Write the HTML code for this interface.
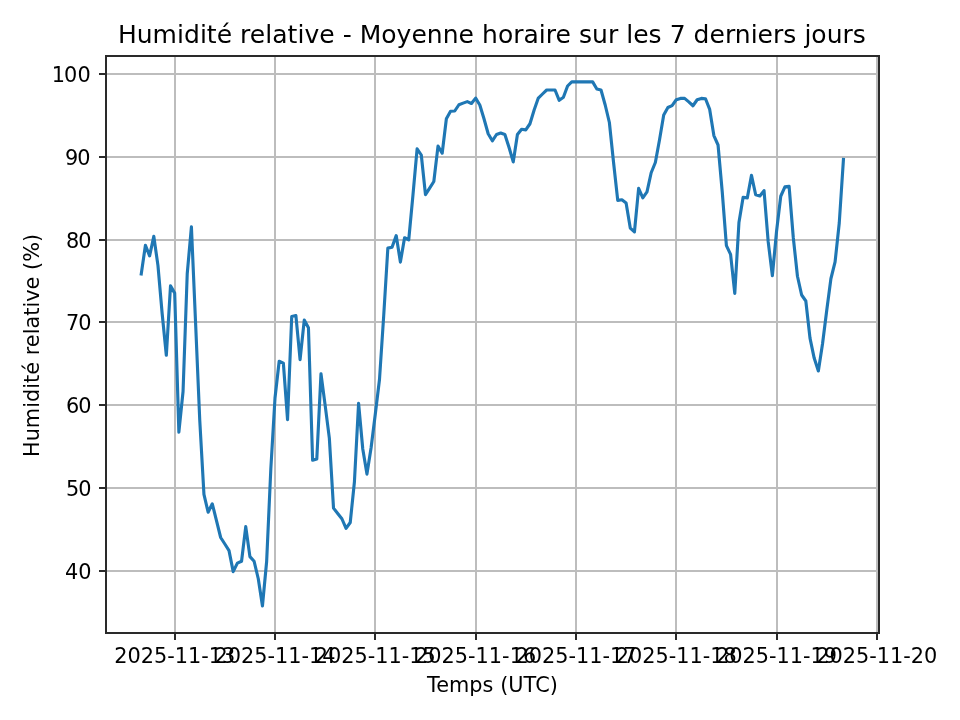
<!DOCTYPE html>
<html lang="fr"><head><meta charset="utf-8"><title>Humidité relative</title>
<style>
html,body{margin:0;padding:0;background:#fff;}
body{width:960px;height:720px;overflow:hidden;}
svg{display:block;will-change:transform;}
text{font-family:"DejaVu Sans","Liberation Sans",sans-serif;fill:#000;}
.t{font-size:25px;}
.l{font-size:20.8333px;}
</style></head><body>
<svg width="960" height="720" viewBox="0 0 960 720">
<rect x="0" y="0" width="960" height="720" fill="#fff"/>
<defs><clipPath id="ax"><rect x="106" y="56" width="773" height="577"/></clipPath></defs>
<g shape-rendering="crispEdges">
<g fill="#bdbdbd" clip-path="url(#ax)">
<rect x="174" y="56" width="2" height="577"/>
<rect x="274" y="56" width="2" height="577"/>
<rect x="374" y="56" width="2" height="577"/>
<rect x="475" y="56" width="2" height="577"/>
<rect x="575" y="56" width="2" height="577"/>
<rect x="675" y="56" width="2" height="577"/>
<rect x="776" y="56" width="2" height="577"/>
<rect x="876" y="56" width="2" height="577"/>
<rect x="106" y="73" width="773" height="2"/>
<rect x="106" y="156" width="773" height="2"/>
<rect x="106" y="239" width="773" height="2"/>
<rect x="106" y="321" width="773" height="2"/>
<rect x="106" y="404" width="773" height="2"/>
<rect x="106" y="487" width="773" height="2"/>
<rect x="106" y="570" width="773" height="2"/>
</g></g>
<polyline clip-path="url(#ax)" fill="none" stroke="#1f77b4" stroke-width="3.125" stroke-linejoin="round" stroke-linecap="square" points="141.25,274.00 145.43,245.25 149.61,255.90 153.79,236.30 157.97,265.60 162.15,313.50 166.33,355.30 170.51,285.90 174.69,293.10 178.87,432.20 183.05,391.50 187.23,273.75 191.41,226.80 195.59,323.10 199.77,420.50 203.95,494.40 208.13,512.20 212.30,503.80 216.48,520.60 220.66,537.50 224.84,544.00 229.02,550.60 233.20,571.60 237.38,563.10 241.56,561.25 245.74,526.60 249.92,556.60 254.10,561.25 258.28,578.75 262.46,605.90 266.64,561.50 270.82,469.00 275.00,398.00 279.18,361.25 283.36,363.10 287.54,419.60 291.72,316.60 295.90,315.60 300.08,359.70 304.26,320.10 308.44,327.75 312.62,460.30 316.80,459.00 320.98,373.80 325.16,405.40 329.34,438.10 333.52,508.10 337.70,513.50 341.88,518.75 346.06,528.40 350.24,522.50 354.41,482.00 358.59,403.40 362.77,449.00 366.95,474.10 371.13,447.50 375.31,414.00 379.49,379.50 383.67,316.25 387.85,248.10 392.03,247.25 396.21,235.60 400.39,262.10 404.57,237.75 408.75,239.75 412.93,195.40 417.11,148.80 421.29,155.00 425.47,194.70 429.65,188.10 433.83,181.50 438.01,146.10 442.19,153.20 446.37,118.75 450.55,111.25 454.73,111.00 458.91,104.75 463.09,103.10 467.27,101.60 471.45,103.50 475.63,98.10 479.81,105.00 483.99,118.75 488.17,133.75 492.34,140.80 496.52,134.50 500.70,133.00 504.88,134.50 509.06,147.50 513.24,161.90 517.42,134.50 521.60,129.20 525.78,129.90 529.96,123.75 534.14,110.00 538.32,98.10 542.50,94.00 546.68,90.00 550.86,90.00 555.04,90.00 559.22,100.30 563.40,97.25 567.58,86.00 571.76,81.90 575.94,81.90 580.12,81.90 584.30,81.90 588.48,81.90 592.66,81.90 596.84,89.00 601.02,90.00 605.20,105.00 609.38,122.50 613.56,162.50 617.74,200.40 621.92,199.80 626.10,202.90 630.27,228.10 634.45,231.90 638.63,188.40 642.81,197.80 646.99,191.90 651.17,172.75 655.35,162.50 659.53,139.80 663.71,115.00 667.89,107.50 672.07,105.60 676.25,99.75 680.43,98.40 684.61,98.40 688.79,101.90 692.97,105.75 697.15,99.75 701.33,98.40 705.51,98.75 709.69,109.40 713.87,135.60 718.05,145.00 722.23,191.75 726.41,245.60 730.59,254.40 734.77,293.40 738.95,222.50 743.13,197.25 747.31,197.90 751.49,175.30 755.67,194.75 759.85,196.00 764.03,190.60 768.21,241.90 772.38,275.70 776.56,231.25 780.74,196.25 784.92,186.90 789.10,186.25 793.28,237.50 797.46,276.25 801.64,295.00 805.82,301.00 810.00,338.10 814.18,358.10 818.36,370.90 822.54,343.75 826.72,310.50 830.90,278.75 835.08,261.90 839.26,223.00 843.44,159.40"/>
<g shape-rendering="crispEdges" fill="#2a2a2a">
<rect x="174" y="632" width="2" height="8"/>
<rect x="274" y="632" width="2" height="8"/>
<rect x="374" y="632" width="2" height="8"/>
<rect x="475" y="632" width="2" height="8"/>
<rect x="575" y="632" width="2" height="8"/>
<rect x="675" y="632" width="2" height="8"/>
<rect x="776" y="632" width="2" height="8"/>
<rect x="876" y="632" width="2" height="8"/>
<rect x="99" y="73" width="8" height="2"/>
<rect x="99" y="156" width="8" height="2"/>
<rect x="99" y="239" width="8" height="2"/>
<rect x="99" y="321" width="8" height="2"/>
<rect x="99" y="404" width="8" height="2"/>
<rect x="99" y="487" width="8" height="2"/>
<rect x="99" y="570" width="8" height="2"/>
<rect x="105" y="55" width="2" height="579"/>
<rect x="878" y="55" width="2" height="579"/>
<rect x="105" y="55" width="775" height="2"/>
<rect x="105" y="632" width="775" height="2"/>
</g>
<text class="t" x="117.9" y="43" textLength="748" lengthAdjust="spacing">Humidité relative - Moyenne horaire sur les 7 derniers jours</text>
<text class="l" x="51.65 64.0 77.5" y="82">100</text>
<text class="l" x="65.05 77.35" y="165">90</text>
<text class="l" x="66.0 78.3" y="248">80</text>
<text class="l" x="66.0 78.3" y="330">70</text>
<text class="l" x="66.0 78.3" y="413">60</text>
<text class="l" x="66.0 78.3" y="496">50</text>
<text class="l" x="65.0 78.3" y="579">40</text>
<text class="l" x="174.75" y="663" text-anchor="middle">2025-11-13</text>
<text class="l" x="275.04" y="663" text-anchor="middle">2025-11-14</text>
<text class="l" x="375.33" y="663" text-anchor="middle">2025-11-15</text>
<text class="l" x="475.62" y="663" text-anchor="middle">2025-11-16</text>
<text class="l" x="575.91" y="663" text-anchor="middle">2025-11-17</text>
<text class="l" x="676.20" y="663" text-anchor="middle">2025-11-18</text>
<text class="l" x="776.49" y="663" text-anchor="middle">2025-11-19</text>
<text class="l" x="876.78" y="663" text-anchor="middle">2025-11-20</text>
<text class="l" x="426.9" y="692.3" textLength="131" lengthAdjust="spacing">Temps (UTC)</text>
<text class="l" transform="translate(39.3,457) rotate(-90)" textLength="223.1" lengthAdjust="spacing">Humidité relative (%)</text>
</svg></body></html>
